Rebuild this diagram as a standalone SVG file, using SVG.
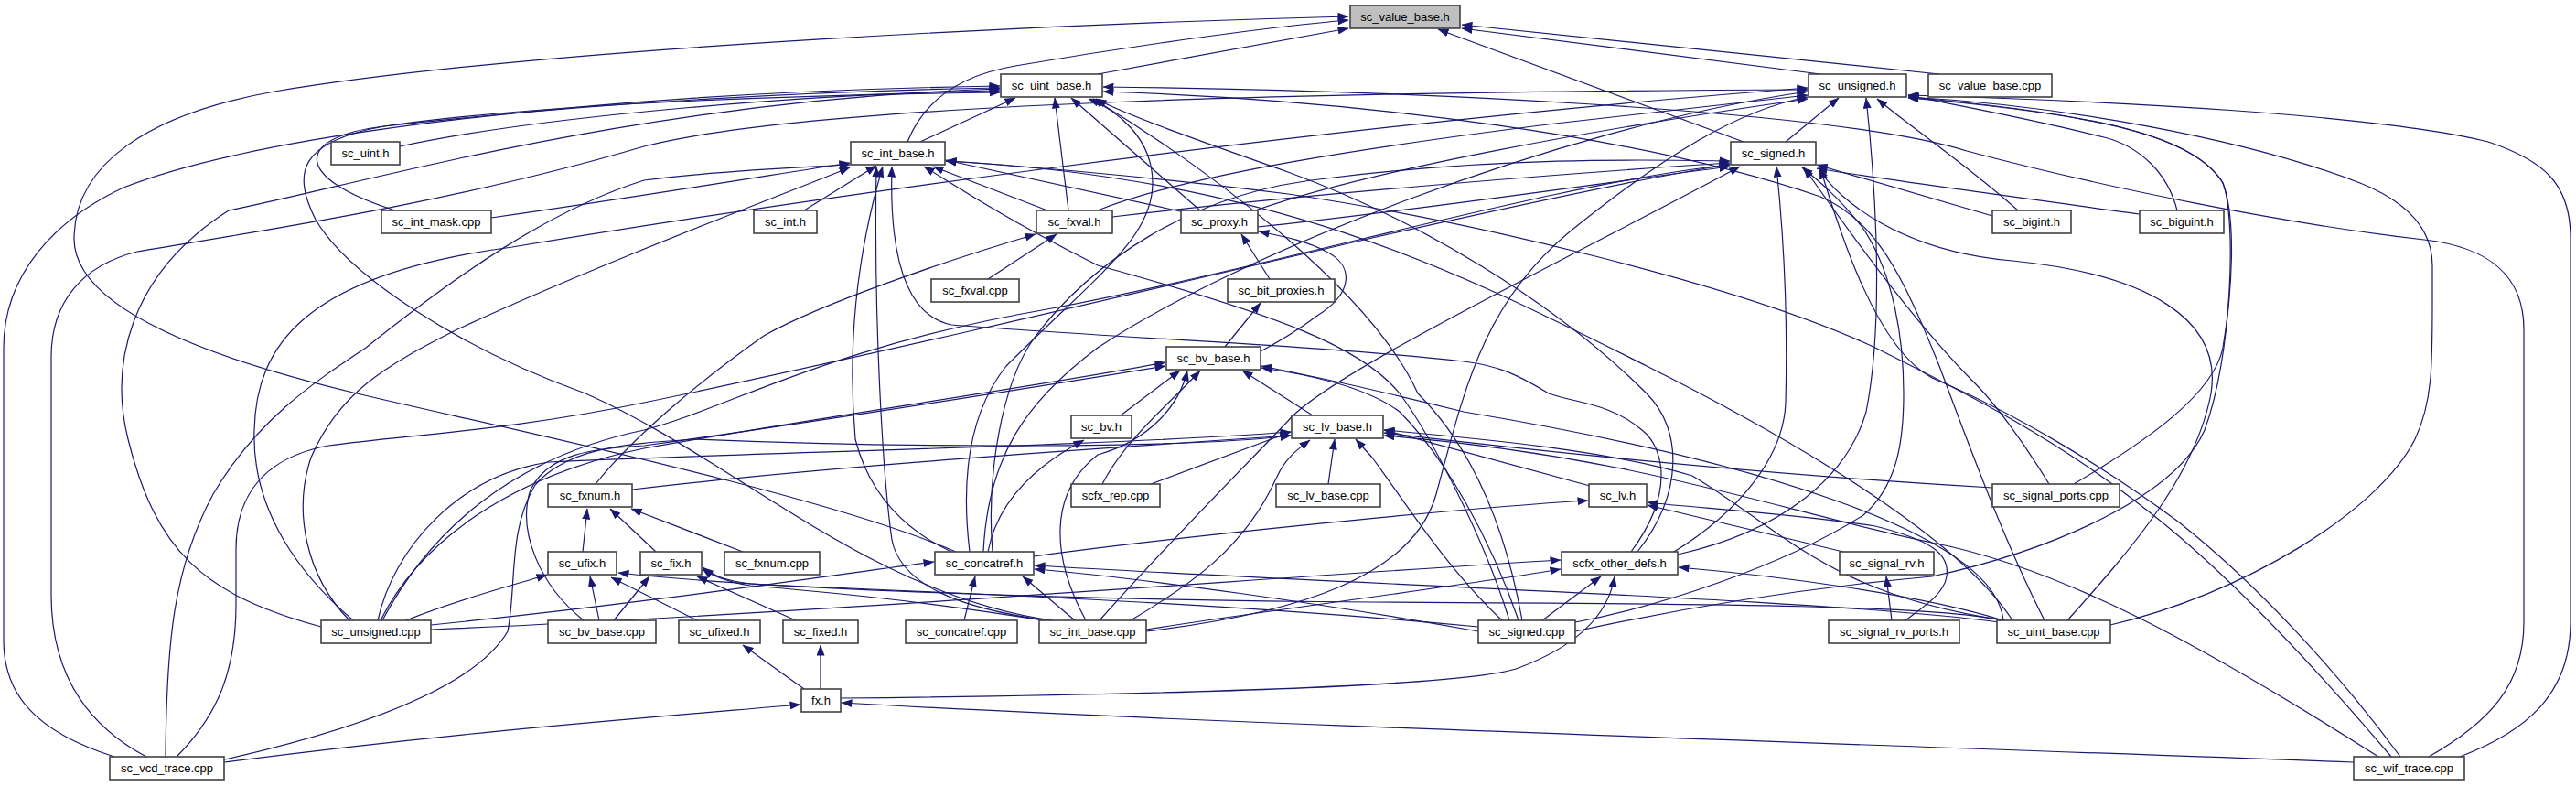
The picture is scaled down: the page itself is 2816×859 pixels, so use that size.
<svg xmlns="http://www.w3.org/2000/svg" width="2816" height="859" viewBox="0 0 2816 859">
<style>
.n rect{fill:#fff;stroke:#404040;stroke-width:1.6}
.n text{font-family:"Liberation Sans",Arial,sans-serif;font-size:13px;text-anchor:middle;fill:#000}
.e path{fill:none;stroke:#191970;stroke-width:1.2;marker-end:url(#ah)}
</style>
<defs>
<marker id="ah" viewBox="0 0 12 9" markerWidth="12" markerHeight="9" refX="11.5" refY="4.5" orient="auto" markerUnits="userSpaceOnUse"><path d="M0,0L12,4.5L0,9z" fill="#191970"/></marker>
</defs>
<rect width="2816" height="859" fill="#fff"/>
<g id="connectors" class="e">
<path d="M2120,81 L1598,27"/>
<path d="M1990,81 L1598,31"/>
<path d="M1906,155 L1572,32"/>
<path d="M1200,81 L1474,31"/>
<path d="M992,155 C1010,110 1050,82 1110,72 C1250,48 1400,28 1474,22"/>
<path d="M1045,603 C900,540 560,470 390,430 C200,385 80,330 81,260 C82,180 160,125 300,100 C600,50 1200,25 1474,18"/>
<path d="M1006,155 L1110,107"/>
<path d="M1168,230 L1153,107"/>
<path d="M1312,230 L1171,107"/>
<path d="M437,160 C600,125 900,102 1093,99"/>
<path d="M432,230 C320,195 320,150 420,138 C650,112 900,99 1093,96"/>
<path d="M125,827 C40,800 4,760 4,700 L4,380 C4,300 60,240 135,205 C300,140 700,100 1093,94"/>
<path d="M2655,827 C2720,790 2759,750 2759,680 L2759,360 C2759,300 2720,270 2650,262 C2500,245 2300,205 2150,165 C2000,118 1500,98 1206,95"/>
<path d="M1790,603 C1840,540 1840,470 1800,430 C1700,330 1550,240 1408,188 C1300,150 1230,125 1198,108"/>
<path d="M1060,603 C1050,520 1060,450 1100,400 C1200,300 1260,260 1260,200 C1260,150 1220,120 1190,108"/>
<path d="M1150,678 C950,650 800,500 640,430 C500,380 380,300 345,240 C320,190 325,155 420,138 C600,112 900,103 1093,101"/>
<path d="M351,685 C220,650 170,600 140,480 C120,400 140,300 250,230 C400,200 700,110 1093,97"/>
<path d="M1664,678 C1650,600 1620,500 1550,430 C1500,320 1330,190 1195,108"/>
<path d="M2235,678 C2190,590 2150,480 2120,400 C2080,300 2050,240 1990,215 C1800,150 1500,110 1206,100"/>
<path d="M1952,155 L2010,107"/>
<path d="M2206,230 C2150,180 2090,140 2052,108"/>
<path d="M2380,230 C2370,190 2340,160 2300,150 C2200,125 2120,112 2086,104"/>
<path d="M2267,529 C2350,480 2420,430 2430,380 C2440,320 2445,240 2430,200 C2400,150 2300,125 2086,106"/>
<path d="M1200,230 C1300,190 1500,160 1700,135 C1850,118 1940,108 1976,104"/>
<path d="M1372,230 C1500,185 1750,140 1976,108"/>
<path d="M1075,603 C1080,500 1120,440 1200,380 C1350,280 1700,140 1976,100"/>
<path d="M1834,606 C1950,580 2020,520 2040,450 C2060,350 2050,200 2040,107"/>
<path d="M386,678 C330,630 275,560 278,470 C280,380 330,300 560,270 C800,230 1400,140 1976,96"/>
<path d="M1253,690 C1420,670 1545,630 1570,540 C1600,430 1620,330 1720,250 C1820,170 1900,120 1976,106"/>
<path d="M1722,690 C1860,660 2000,640 2112,630 C2250,600 2380,540 2410,470 C2440,390 2445,240 2430,200 C2400,150 2300,125 2086,107"/>
<path d="M2307,683 C2450,650 2600,560 2640,480 C2659,440 2659,400 2659,330 L2659,290 C2659,250 2630,220 2580,200 C2450,150 2250,115 2086,106"/>
<path d="M160,827 C90,790 56,730 56,650 L56,390 C56,330 90,290 150,275 C300,250 500,220 704,160 C900,110 1500,100 1976,98"/>
<path d="M2689,827 C2760,800 2810,760 2810,680 L2810,260 C2810,200 2780,175 2720,155 C2600,125 2300,110 2086,104"/>
<path d="M2178,236 L1986,180"/>
<path d="M2339,234 C2200,215 2050,195 1986,184"/>
<path d="M1216,237 C1400,215 1700,190 1891,178"/>
<path d="M1375,248 C1550,230 1750,200 1891,182"/>
<path d="M1085,603 C1078,520 1095,420 1130,370 C1190,290 1300,210 1450,195 C1650,170 1820,175 1891,176"/>
<path d="M1830,603 C1900,560 1950,500 1952,440 C1955,330 1948,240 1942,182"/>
<path d="M2240,529 C2210,480 2180,440 2160,420 C2100,360 2040,280 1972,183"/>
<path d="M418,678 C470,580 560,500 704,470 C800,445 900,380 1150,337 C1400,290 1700,200 1891,180"/>
<path d="M1722,680 C1812,663 1947,620 2037,563 C2075,530 2081,480 2081,430 C2081,370 2070,300 2037,250 C2010,215 1985,195 1970,183"/>
<path d="M2260,678 C2330,600 2400,520 2417,430 C2430,350 2350,300 2200,285 C2080,275 2010,220 1988,184"/>
<path d="M1202,678 C1280,590 1370,500 1408,460 C1450,410 1700,290 1902,182"/>
<path d="M193,827 C240,780 258,730 258,660 L258,600 C258,540 290,500 359,487 C450,475 560,470 704,440 C900,400 1200,330 1500,260 C1700,215 1820,190 1891,180"/>
<path d="M2624,827 C2560,740 2470,640 2381,570 C2300,510 2200,450 2112,413 C2050,380 2010,250 1990,184"/>
<path d="M879,230 L958,181"/>
<path d="M537,238 C700,215 850,190 929,178"/>
<path d="M1145,230 L1020,182"/>
<path d="M1295,232 L1034,175"/>
<path d="M1040,603 C990,580 950,540 935,480 C928,400 930,300 965,182"/>
<path d="M1783,603 C1830,540 1820,490 1795,470 C1760,440 1720,440 1693,430 C1660,410 1640,400 1600,395 C1450,378 1200,368 1040,355 C990,345 972,280 975,182"/>
<path d="M382,678 C335,630 320,560 340,500 C370,430 420,400 500,360 C650,290 850,215 929,183"/>
<path d="M1145,678 C1050,665 985,640 975,590 C965,520 955,350 958,182"/>
<path d="M1650,678 C1620,580 1560,470 1530,430 C1490,380 1400,345 1200,290 C1100,240 1040,200 1010,182"/>
<path d="M2200,678 C2150,600 2000,500 1800,400 C1600,300 1400,195 1034,176"/>
<path d="M181,827 C182,700 190,620 233,540 C280,460 340,420 400,380 C500,300 600,230 704,197 C800,185 880,183 929,180"/>
<path d="M2614,827 C2540,740 2440,630 2350,560 C2250,480 2150,430 2050,380 C1900,310 1600,240 1408,212 C1250,192 1100,180 1034,176"/>
<path d="M1080,305 L1155,256"/>
<path d="M651,529 C690,480 760,420 835,367 C900,330 1050,280 1132,256"/>
<path d="M1388,305 L1357,256"/>
<path d="M1339,379 L1378,331"/>
<path d="M1378,384 C1395,375 1420,360 1440,345 C1480,320 1480,290 1450,275 C1425,262 1400,258 1376,253"/>
<path d="M1225,454 L1290,405"/>
<path d="M1435,454 L1358,405"/>
<path d="M1205,529 C1230,480 1280,440 1312,405"/>
<path d="M638,678 C590,640 565,580 580,535 C600,495 650,490 704,487 C900,460 1150,420 1274,400"/>
<path d="M416,678 C460,590 560,520 704,490 C900,455 1150,420 1274,396"/>
<path d="M1660,678 C1630,590 1580,500 1530,450 C1490,420 1420,408 1379,402"/>
<path d="M1187,678 C1150,610 1145,540 1200,497 C1260,480 1290,440 1298,405"/>
<path d="M2190,678 C2180,580 1900,500 1600,450 C1500,425 1430,410 1379,400"/>
<path d="M1738,531 L1513,470"/>
<path d="M1452,529 L1459,480"/>
<path d="M1258,529 L1411,472"/>
<path d="M691,535 C900,510 1200,490 1411,476"/>
<path d="M2178,533 C1950,520 1700,495 1513,473"/>
<path d="M246,830 C400,795 520,750 555,690 C565,640 555,580 585,530 C620,490 680,485 760,480 C1000,490 1300,490 1411,476"/>
<path d="M413,678 C430,600 500,520 600,505 C800,495 1200,488 1411,472"/>
<path d="M1642,678 C1580,620 1530,540 1500,500 L1482,480"/>
<path d="M1236,678 C1300,640 1360,600 1395,523 C1405,500 1420,490 1432,481"/>
<path d="M2192,678 C2000,650 1950,580 1850,520 C1750,490 1600,478 1513,470"/>
<path d="M2600,827 C2400,700 2250,620 2112,593 C1950,560 1800,500 1513,476"/>
<path d="M812,603 L690,556"/>
<path d="M637,603 L642,556"/>
<path d="M717,603 L667,556"/>
<path d="M762,678 L668,631"/>
<path d="M870,678 L762,630"/>
<path d="M879,753 L812,705"/>
<path d="M897,753 L897,705"/>
<path d="M919,763 C1200,760 1600,752 1660,730 C1740,700 1760,660 1765,630"/>
<path d="M245,833 C500,800 700,785 875,770"/>
<path d="M2573,833 C2000,812 1300,790 920,768"/>
<path d="M655,678 L645,630"/>
<path d="M671,678 L710,630"/>
<path d="M444,678 C500,655 560,640 598,628"/>
<path d="M2188,678 C2120,662 1900,660 1500,658 C1100,655 800,640 676,626"/>
<path d="M1140,678 C1000,655 880,645 820,640 C795,636 780,630 768,622"/>
<path d="M1616,685 C1300,655 950,645 820,638 C790,634 778,628 768,620"/>
<path d="M1054,678 L1066,630"/>
<path d="M1175,678 L1118,630"/>
<path d="M471,683 C700,660 900,630 1021,614"/>
<path d="M1616,690 C1450,660 1250,632 1131,622"/>
<path d="M2186,680 C2000,655 1500,640 1131,618"/>
<path d="M1080,603 C1090,550 1130,510 1185,481"/>
<path d="M1130,608 C1300,585 1600,555 1736,547"/>
<path d="M1686,678 L1750,630"/>
<path d="M471,688 C900,670 1400,630 1706,612"/>
<path d="M1253,688 C1400,665 1600,640 1706,622"/>
<path d="M2190,678 C2100,650 1950,630 1835,620"/>
<path d="M2015,603 L1801,552"/>
<path d="M2068,678 L2062,630"/>
<path d="M2083,678 C2100,665 2125,650 2128,630 C2132,605 2110,590 2050,575 C1950,560 1850,555 1801,549"/>
</g>
<g id="sc_value_base_h" class="n"><rect x="1476" y="6" width="120" height="25" style="fill:#bfbfbf"/><text x="1536" y="22.5">sc_value_base.h</text></g>
<g id="sc_uint_base_h" class="n"><rect x="1094" y="81" width="111" height="25"/><text x="1149.5" y="97.5">sc_uint_base.h</text></g>
<g id="sc_unsigned_h" class="n"><rect x="1977" y="81" width="107" height="25"/><text x="2030.5" y="97.5">sc_unsigned.h</text></g>
<g id="sc_value_base_cpp" class="n"><rect x="2108" y="81" width="135" height="25"/><text x="2175.5" y="97.5">sc_value_base.cpp</text></g>
<g id="sc_int_base_h" class="n"><rect x="930" y="155" width="103" height="25"/><text x="981.5" y="171.5">sc_int_base.h</text></g>
<g id="sc_uint_h" class="n"><rect x="362" y="155" width="75" height="25"/><text x="399.5" y="171.5">sc_uint.h</text></g>
<g id="sc_signed_h" class="n"><rect x="1892" y="155" width="93" height="25"/><text x="1938.5" y="171.5">sc_signed.h</text></g>
<g id="sc_int_mask_cpp" class="n"><rect x="417" y="230" width="120" height="25"/><text x="477" y="246.5">sc_int_mask.cpp</text></g>
<g id="sc_int_h" class="n"><rect x="824" y="230" width="69" height="25"/><text x="858.5" y="246.5">sc_int.h</text></g>
<g id="sc_fxval_h" class="n"><rect x="1133" y="230" width="83" height="25"/><text x="1174.5" y="246.5">sc_fxval.h</text></g>
<g id="sc_proxy_h" class="n"><rect x="1291" y="230" width="84" height="25"/><text x="1333" y="246.5">sc_proxy.h</text></g>
<g id="sc_bigint_h" class="n"><rect x="2178" y="230" width="86" height="25"/><text x="2221" y="246.5">sc_bigint.h</text></g>
<g id="sc_biguint_h" class="n"><rect x="2339" y="230" width="92" height="25"/><text x="2385" y="246.5">sc_biguint.h</text></g>
<g id="sc_fxval_cpp" class="n"><rect x="1018" y="305" width="96" height="25"/><text x="1066" y="321.5">sc_fxval.cpp</text></g>
<g id="sc_bit_proxies_h" class="n"><rect x="1342" y="305" width="117" height="25"/><text x="1400.5" y="321.5">sc_bit_proxies.h</text></g>
<g id="sc_bv_base_h" class="n"><rect x="1275" y="379" width="103" height="25"/><text x="1326.5" y="395.5">sc_bv_base.h</text></g>
<g id="sc_bv_h" class="n"><rect x="1171" y="454" width="66" height="25"/><text x="1204" y="470.5">sc_bv.h</text></g>
<g id="sc_lv_base_h" class="n"><rect x="1412" y="454" width="100" height="25"/><text x="1462" y="470.5">sc_lv_base.h</text></g>
<g id="sc_fxnum_h" class="n"><rect x="599" y="529" width="92" height="25"/><text x="645" y="545.5">sc_fxnum.h</text></g>
<g id="scfx_rep_cpp" class="n"><rect x="1171" y="529" width="97" height="25"/><text x="1219.5" y="545.5">scfx_rep.cpp</text></g>
<g id="sc_lv_base_cpp" class="n"><rect x="1395" y="529" width="114" height="25"/><text x="1452" y="545.5">sc_lv_base.cpp</text></g>
<g id="sc_lv_h" class="n"><rect x="1737" y="529" width="63" height="25"/><text x="1768.5" y="545.5">sc_lv.h</text></g>
<g id="sc_signal_ports_cpp" class="n"><rect x="2178" y="529" width="139" height="25"/><text x="2247.5" y="545.5">sc_signal_ports.cpp</text></g>
<g id="sc_ufix_h" class="n"><rect x="599" y="603" width="75" height="25"/><text x="636.5" y="619.5">sc_ufix.h</text></g>
<g id="sc_fix_h" class="n"><rect x="700" y="603" width="67" height="25"/><text x="733.5" y="619.5">sc_fix.h</text></g>
<g id="sc_fxnum_cpp" class="n"><rect x="792" y="603" width="104" height="25"/><text x="844" y="619.5">sc_fxnum.cpp</text></g>
<g id="sc_concatref_h" class="n"><rect x="1022" y="603" width="108" height="25"/><text x="1076" y="619.5">sc_concatref.h</text></g>
<g id="scfx_other_defs_h" class="n"><rect x="1707" y="603" width="127" height="25"/><text x="1770.5" y="619.5">scfx_other_defs.h</text></g>
<g id="sc_signal_rv_h" class="n"><rect x="2011" y="603" width="103" height="25"/><text x="2062.5" y="619.5">sc_signal_rv.h</text></g>
<g id="sc_unsigned_cpp" class="n"><rect x="351" y="678" width="120" height="25"/><text x="411" y="694.5">sc_unsigned.cpp</text></g>
<g id="sc_bv_base_cpp" class="n"><rect x="599" y="678" width="118" height="25"/><text x="658" y="694.5">sc_bv_base.cpp</text></g>
<g id="sc_ufixed_h" class="n"><rect x="742" y="678" width="89" height="25"/><text x="786.5" y="694.5">sc_ufixed.h</text></g>
<g id="sc_fixed_h" class="n"><rect x="856" y="678" width="82" height="25"/><text x="897" y="694.5">sc_fixed.h</text></g>
<g id="sc_concatref_cpp" class="n"><rect x="990" y="678" width="122" height="25"/><text x="1051" y="694.5">sc_concatref.cpp</text></g>
<g id="sc_int_base_cpp" class="n"><rect x="1136" y="678" width="117" height="25"/><text x="1194.5" y="694.5">sc_int_base.cpp</text></g>
<g id="sc_signed_cpp" class="n"><rect x="1616" y="678" width="106" height="25"/><text x="1669" y="694.5">sc_signed.cpp</text></g>
<g id="sc_signal_rv_ports_h" class="n"><rect x="1999" y="678" width="143" height="25"/><text x="2070.5" y="694.5">sc_signal_rv_ports.h</text></g>
<g id="sc_uint_base_cpp" class="n"><rect x="2183" y="678" width="124" height="25"/><text x="2245" y="694.5">sc_uint_base.cpp</text></g>
<g id="fx_h" class="n"><rect x="876" y="753" width="43" height="25"/><text x="897.5" y="769.5">fx.h</text></g>
<g id="sc_vcd_trace_cpp" class="n"><rect x="120" y="827" width="125" height="25"/><text x="182.5" y="843.5">sc_vcd_trace.cpp</text></g>
<g id="sc_wif_trace_cpp" class="n"><rect x="2573" y="827" width="121" height="25"/><text x="2633.5" y="843.5">sc_wif_trace.cpp</text></g>
</svg>
